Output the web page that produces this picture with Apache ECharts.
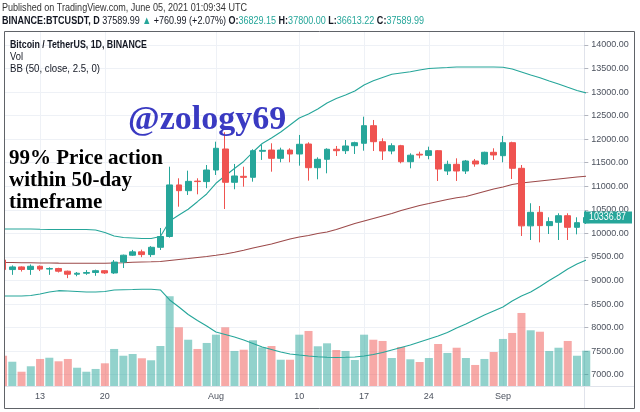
<!DOCTYPE html>
<html><head><meta charset="utf-8">
<script src="https://cdn.jsdelivr.net/npm/echarts@6/dist/echarts.min.js"></script>
<style>html,body{margin:0;padding:0;background:#fff}#c{width:640px;height:412px}</style>
</head><body><div id="c"></div>
<script>
const dates = ['Jul 9','Jul 10','Jul 11','Jul 12','Jul 13','Jul 14','Jul 15','Jul 16','Jul 17','Jul 18','Jul 19','Jul 20','Jul 21','Jul 22','Jul 23','Jul 24','Jul 25','Jul 26','Jul 27','Jul 28','Jul 29','Jul 30','Jul 31',
 'Aug 1','Aug 2','Aug 3','Aug 4','Aug 5','Aug 6','Aug 7','Aug 8','Aug 9','Aug 10','Aug 11','Aug 12','Aug 13','Aug 14','Aug 15','Aug 16','Aug 17','Aug 18','Aug 19','Aug 20','Aug 21','Aug 22','Aug 23','Aug 24','Aug 25','Aug 26','Aug 27','Aug 28','Aug 29','Aug 30','Aug 31',
 'Sep 1','Sep 2','Sep 3','Sep 4','Sep 5','Sep 6','Sep 7','Sep 8','Sep 9','Sep 10'];
const opens  = [9435,9232,9288,9234,9302,9242,9255,9197,9133,9154,9170,9208,9160,9391,9537,9608,9550,9705,9934,11029,10907,11110,11100,
 11346,11792,11085,11212,11191,11744,11770,11594,11770,11686,11898,11395,11573,11786,11756,11862,11913,12287,11947,11750,11862,11522,11681,11656,11756,11325,11467,11325,11537,11474,11722,
 11650,11926,11382,10160,10448,10165,10236,10376,10129,10228];
const closes = [9232,9288,9234,9302,9242,9255,9197,9133,9154,9170,9208,9160,9391,9537,9608,9550,9705,9934,11029,10907,11105,11100,11346,
 11807,11085,11219,11190,11756,11763,11594,11770,11686,11892,11395,11573,11786,11756,11856,11926,12287,11947,11750,11862,11522,11660,11664,11756,11366,11467,11325,11537,11474,11722,11665,
 11926,11382,10160,10448,10165,10250,10376,10129,10228,10337];
const lows   = [9160,9120,9190,9120,9200,9120,9170,9050,9090,9120,9100,9140,9140,9265,9520,9495,9500,9648,9910,10567,10816,10830,10960,
 11240,10518,10937,10992,11098,11560,11310,11510,11510,11438,11120,11149,11276,11643,11686,11686,11756,11750,11559,11680,11488,11382,11594,11573,11113,11240,11113,11262,11416,11452,11559,
 11510,11155,9945,9860,9810,9987,9860,9860,9980,10200];
const highs  = [9450,9320,9300,9340,9320,9280,9270,9210,9180,9220,9230,9220,9435,9550,9650,9655,9730,10115,11416,11170,11332,11170,11452,
 11947,12147,11474,11416,11786,11877,11913,11820,11807,12090,11934,11615,11807,11856,11983,11947,12478,12408,12019,11913,11880,11700,11735,11841,11770,11544,11594,11559,11580,11735,11807,
 12069,11947,11452,10640,10582,10342,10427,10427,10342,10480];
const volumes = [43900,35200,20700,28600,39200,41000,35800,39200,26500,20700,24700,32900,53700,43900,46400,40200,37300,58000,130100,85100,67100,53700,62400,
 74400,85100,50800,52600,66300,56100,58000,38100,38100,74400,79800,57600,61900,52200,50800,37700,74400,67100,65300,40600,56600,38700,34800,40600,60900,47900,55500,40600,30500,39200,49300,
 68200,76900,105900,80800,78700,50800,55500,65300,43900,51200];
const bbUpper = [10094,10094,10094,10094,10087,10083,10083,10083,10083,10083,10072,10019,9945,9913,9903,9892,9892,9934,10264,10391,10512,10673,10837,
 11064,11223,11378,11527,11728,11909,12026,12153,12302,12451,12535,12641,12769,12864,12939,13023,13151,13242,13310,13378,13406,13433,13469,13501,13512,13522,13533,13533,13533,13533,13533,
 13527,13490,13427,13363,13306,13236,13172,13102,13034,12981];
const bbBasis = [9382,9382,9378,9376,9372,9372,9368,9366,9366,9366,9366,9366,9372,9378,9387,9393,9397,9404,9425,9446,9467,9489,9510,
 9535,9563,9599,9642,9690,9733,9775,9828,9881,9924,9956,9998,10030,10083,10147,10210,10264,10317,10370,10423,10487,10540,10593,10635,10678,10720,10756,10784,10837,10890,10943,
 10985,11038,11070,11092,11113,11134,11155,11176,11198,11213];
const bbLower = [8671,8671,8671,8682,8714,8756,8784,8777,8767,8756,8756,8767,8799,8805,8809,8814,8814,8799,8586,8438,8278,8151,8034,
 7907,7854,7801,7737,7663,7588,7535,7482,7440,7418,7397,7382,7370,7366,7370,7376,7397,7429,7472,7525,7578,7631,7695,7758,7822,7896,7992,8077,8172,8268,8353,
 8438,8565,8671,8756,8873,9000,9117,9245,9351,9436];
const xTickDates  = ['Jul 13','Jul 20','Aug 1','Aug 10','Aug 17','Aug 24','Sep 1'];
const xTickLabels = ['13','20','Aug','10','17','24','Sep'];
const yTickValues = [7000,7500,8000,8500,9000,9500,10000,10500,11000,11500,12000,12500,13000,13500,14000];
const lastPrice = 10336.87;

const UP = '#26a69a', DOWN = '#ef5350';
const SANS = "'Liberation Sans',Arial,sans-serif";
const SERIF = "'Liberation Serif','Times New Roman',serif";
const idx = dates.map((d, i) => i);
const xTickIdx = xTickDates.map(d => dates.indexOf(d));

const candleData = idx.map(i => [i, opens[i], closes[i], lows[i], highs[i]]);
const volData = idx.map(i => ({value: [i, volumes[i]], itemStyle: {color: closes[i] >= opens[i] ? 'rgba(38,166,154,0.5)' : 'rgba(239,83,80,0.5)'}}));
const upperData = idx.map(i => [i, bbUpper[i]]);
const basisData = idx.map(i => [i, bbBasis[i]]);
const lowerData = idx.map(i => [i, bbLower[i]]);
const bandData = idx.map(i => [i, bbUpper[i] - bbLower[i]]);

// text width helper (to mimic the narrow TradingView font)
const mctx = document.createElement('canvas').getContext('2d');
function textW(segs) { let w = 0; segs.forEach(([t, f]) => { mctx.font = f; w += mctx.measureText(t).width; }); return w; }

const chart = echarts.init(document.getElementById('c'), null, {renderer: 'canvas'});
chart.setOption({
  animation: false,
  backgroundColor: '#fff',
  grid: {left: 4, right: 55.7, top: 32, bottom: 26, containLabel: false},
  xAxis: {
    type: 'value', min: 0.104, max: 62.79,
    axisLine: {show: true, lineStyle: {color: '#e0e3eb'}},
    axisTick: {show: false, customValues: xTickIdx},
    axisLabel: {customValues: xTickIdx, margin: 6, color: '#4c525e', fontSize: 9, fontFamily: SANS,
      formatter: v => { const k = xTickIdx.indexOf(Math.round(v)); return k >= 0 ? xTickLabels[k] : ''; }},
    splitLine: {show: true, lineStyle: {color: '#eef1f6'}}
  },
  yAxis: [{
    type: 'value', position: 'right', min: 6760, max: 14276,
    axisLine: {show: true, lineStyle: {color: '#e0e3eb'}},
    axisTick: {show: true, length: 4, lineStyle: {color: '#b2b5be'}, customValues: yTickValues},
    axisLabel: {customValues: yTickValues, margin: 7, color: '#4c525e', fontSize: 9, fontFamily: SANS,
      formatter: v => v.toFixed(2)},
    splitLine: {show: true, lineStyle: {color: '#eef1f6'}}
  }, {
    type: 'value', min: 0, max: 513300, show: false
  }],
  series: [
    {type: 'line', name: 'bbLowerBase', data: lowerData, stack: 'bb', symbol: 'none', lineStyle: {opacity: 0}, z: 1, silent: true},
    {type: 'line', name: 'bbFill', data: bandData, stack: 'bb', symbol: 'none', lineStyle: {opacity: 0},
      areaStyle: {color: 'rgba(25,135,135,0.06)'}, z: 1, silent: true},
    {type: 'bar', name: 'Vol', yAxisIndex: 1, data: volData, barWidth: 8, z: 2, silent: true},
    {type: 'line', name: 'Upper', data: upperData, symbol: 'none', lineStyle: {color: UP, width: 1.1}, z: 3, silent: true},
    {type: 'line', name: 'Basis', data: basisData, symbol: 'none', lineStyle: {color: '#9c4a4a', width: 1.1}, z: 3, silent: true},
    {type: 'line', name: 'Lower', data: lowerData, symbol: 'none', lineStyle: {color: UP, width: 1.1}, z: 3, silent: true},
    {type: 'candlestick', name: 'BTCUSDT', data: candleData, encode: {x: 0, y: [1, 2, 3, 4]}, barWidth: 6.3, z: 4, clip: true,
      itemStyle: {color: UP, color0: DOWN, borderColor: UP, borderColor0: DOWN, borderWidth: 1}}
  ]
});

// price label on the axis, placed from the value through the axis scale
const py = chart.convertToPixel({yAxisIndex: 0}, lastPrice);
const F11 = "11px " + SANS, B11 = "bold 11px " + SANS;
const line1 = 'Published on TradingView.com, June 05, 2021 01:09:34 UTC';
const segs2 = [['BINANCE:BTCUSDT, D ', B11], ['37589.99 ', F11], ['▲ ', F11], ['+760.99 (+2.07%) ', F11], ['O:', B11], ['36829.15 ', F11], ['H:', B11], ['37800.00 ', F11], ['L:', B11], ['36613.22 ', F11], ['C:', B11], ['37589.99', F11]];
const rich = {b: {fontWeight: 'bold', fill: '#131722', fontSize: 11, fontFamily: SANS},
              n: {fill: '#131722', fontSize: 11, fontFamily: SANS},
              g: {fill: UP, fontSize: 11, fontFamily: SANS}};
const priceText = lastPrice.toFixed(2);
chart.setOption({
  graphic: [
    {type: 'rect', silent: true, z: 99, shape: {x: 0, y: 28, width: 4, height: 384}, style: {fill: '#fff'}},
    {type: 'rect', silent: true, z: 100, shape: {x: 4.5, y: 31.5, width: 630, height: 377}, style: {fill: 'none', stroke: '#606368', lineWidth: 1}},
    {type: 'line', silent: true, z: 90, shape: {x1: 584, y1: 386.5, x2: 634, y2: 386.5}, style: {stroke: '#e0e3eb', lineWidth: 1}},
    {type: 'line', silent: true, z: 90, shape: {x1: 584.5, y1: 386, x2: 584.5, y2: 408}, style: {stroke: '#e0e3eb', lineWidth: 1}},
    {type: 'rect', silent: true, z: 95, shape: {x: 584, y: py - 6, width: 48, height: 12}, style: {fill: UP}},
    {type: 'text', silent: true, z: 96, x: 589, y: py, scaleX: 37 / textW([[priceText, "10px " + SANS]]),
      style: {x: 0, y: 0, text: priceText, font: "10px " + SANS, fill: '#fff', verticalAlign: 'middle'}},
    {type: 'text', silent: true, z: 100, x: 2, y: 8, scaleX: 245 / textW([[line1, F11]]),
      style: {x: 0, y: 0, text: line1, font: F11, fill: '#333', verticalAlign: 'middle'}},
    {type: 'text', silent: true, z: 100, x: 2, y: 21, scaleX: 422 / textW(segs2),
      style: {x: 0, y: 0, verticalAlign: 'middle', font: F11, rich: rich,
        text: '{b|BINANCE:BTCUSDT, D} {n|37589.99} {g|▲} {n|+760.99 (+2.07%)} {b|O:}{g|36829.15} {b|H:}{g|37800.00} {b|L:}{g|36613.22} {b|C:}{g|37589.99}'}},
    {type: 'text', silent: true, z: 100, x: 10, y: 45, scaleX: 137 / textW([['Bitcoin / TetherUS, 1D, BINANCE', B11]]),
      style: {x: 0, y: 0, text: 'Bitcoin / TetherUS, 1D, BINANCE', font: B11, fill: '#131722', verticalAlign: 'middle'}},
    {type: 'text', silent: true, z: 100, x: 10, y: 57, scaleX: 0.85,
      style: {x: 0, y: 0, text: 'Vol', font: F11, fill: '#131722', verticalAlign: 'middle'}},
    {type: 'text', silent: true, z: 100, x: 10, y: 69, scaleX: 90 / textW([['BB (50, close, 2.5, 0)', F11]]),
      style: {x: 0, y: 0, text: 'BB (50, close, 2.5, 0)', font: F11, fill: '#131722', verticalAlign: 'middle'}},
    {type: 'text', silent: true, z: 100, style: {x: 128, y: 103, text: '@zology69', font: "bold 34px " + SERIF, fill: '#3a3ac2', verticalAlign: 'alphabetic'}},
    {type: 'text', silent: true, z: 100, style: {x: 9, y: 148, text: '99% Price action', font: "bold 21px " + SERIF, fill: '#000', verticalAlign: 'alphabetic'}},
    {type: 'text', silent: true, z: 100, style: {x: 9, y: 170, text: 'within 50-day', font: "bold 21px " + SERIF, fill: '#000', verticalAlign: 'alphabetic'}},
    {type: 'text', silent: true, z: 100, style: {x: 9, y: 192, text: 'timeframe', font: "bold 21px " + SERIF, fill: '#000', verticalAlign: 'alphabetic'}}
  ]
});
</script></body></html>
